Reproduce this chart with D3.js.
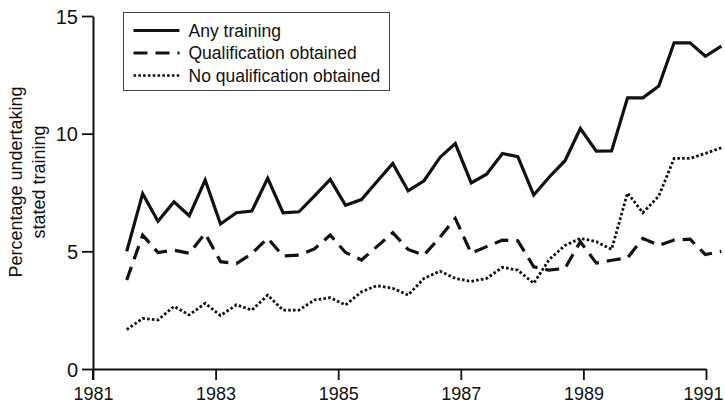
<!DOCTYPE html>
<html>
<head>
<meta charset="utf-8">
<script src="https://cdn.jsdelivr.net/npm/d3@7"></script>
<style>
  body { margin: 0; background: #fff; }
  svg { display: block; font-family: "Liberation Sans", Arial, Helvetica, sans-serif; }
</style>
</head>
<body>
<div id="chart"></div>
<script>
// quarterly survey points (decimal years)
const years = [
  1981.55, 1981.81, 1982.06, 1982.32, 1982.57, 1982.83, 1983.08, 1983.34, 1983.59, 1983.85,
  1984.10, 1984.36, 1984.61, 1984.87, 1985.12, 1985.38, 1985.63, 1985.89, 1986.14, 1986.40,
  1986.66, 1986.91, 1987.17, 1987.42, 1987.68, 1987.93, 1988.19, 1988.44, 1988.70, 1988.95,
  1989.21, 1989.46, 1989.72, 1989.97, 1990.23, 1990.48, 1990.74, 1990.99, 1991.25
];

const anyTraining = [
  5.0, 7.45, 6.28, 7.1, 6.51, 8.03, 6.16, 6.64, 6.71, 8.1,
  6.64, 6.68, 7.35, 8.06, 6.96, 7.2, 7.96, 8.73, 7.57, 8.0,
  8.99, 9.58, 7.91, 8.28, 9.16, 9.02, 7.39, 8.15, 8.85, 10.22,
  9.26, 9.27, 11.52, 11.52, 12.02, 13.86, 13.86, 13.29, 13.72
];

const qualObtained = [
  3.78, 5.69, 4.95, 5.05, 4.92, 5.76, 4.56, 4.48, 4.9, 5.56,
  4.8, 4.84, 5.1, 5.69, 4.95, 4.63, 5.2, 5.79, 5.08, 4.84,
  5.6, 6.4, 4.92, 5.2, 5.48, 5.45, 4.34, 4.2, 4.28, 5.41,
  4.5, 4.62, 4.72, 5.55, 5.25, 5.48, 5.52, 4.86, 5.0
];

const noQual = [
  1.67, 2.15, 2.08, 2.66, 2.3, 2.79, 2.27, 2.73, 2.5, 3.14,
  2.5, 2.5, 2.93, 3.03, 2.72, 3.28, 3.54, 3.43, 3.14, 3.85,
  4.16, 3.85, 3.72, 3.85, 4.32, 4.2, 3.64, 4.65, 5.25, 5.55,
  5.41, 5.08, 7.48, 6.64, 7.35, 8.95, 8.95, 9.16, 9.4
];

const xTicks = [1981, 1983, 1985, 1987, 1989, 1991];
const yTicks = [0, 5, 10, 15];

const seriesNames = ['Any training', 'Qualification obtained', 'No qualification obtained'];
const seriesValues = [anyTraining, qualObtained, noQual];
const dashes = [null, '14,8', '2.6,2.2'];

const W = 725, H = 406;
const m = { top: 16, right: 19, bottom: 37, left: 93 };
const w = W - m.left - m.right;
const h = H - m.top - m.bottom;

const svg = d3.select('#chart').append('svg').attr('width', W).attr('height', H);
const g = svg.append('g').attr('transform', `translate(${m.left},${m.top})`);

const x = d3.scaleLinear().domain([1981, 1991]).range([0, 613]);
const y = d3.scaleLinear().domain([0, 15]).range([h, 0]);

// Axes
const xAxis = g.append('g').attr('transform', `translate(0,${h})`)
  .call(d3.axisBottom(x).tickValues(xTicks).tickFormat(d3.format('d')).tickSize(11).tickSizeOuter(0));
const yAxis = g.append('g')
  .call(d3.axisLeft(y).tickValues(yTicks).tickSize(11).tickSizeOuter(0));

[xAxis, yAxis].forEach(a => {
  a.select('.domain').attr('stroke', '#111').attr('stroke-width', 2);
  a.selectAll('.tick line').attr('stroke', '#111').attr('stroke-width', 1.8);
  a.selectAll('.tick text').attr('fill', '#111')
    .attr('font-family', '"Liberation Sans", Arial, sans-serif');
});
xAxis.selectAll('.tick text').attr('font-size', 18).attr('y', 14).attr('dy', '0.95em')
  .attr('dx', d => d === 1991 ? -3 : 0);
yAxis.selectAll('.tick text').attr('font-size', 20).attr('x', -15).attr('dy', '0.36em');
// y axis runs down through the x axis to the 1981 tick
g.append('line').attr('x1', 0).attr('x2', 0).attr('y1', h).attr('y2', h + 11)
  .attr('stroke', '#111').attr('stroke-width', 2);

// Axis label
const yl = svg.append('text').attr('text-anchor', 'middle').attr('fill', '#111').attr('font-size', 18)
  .attr('transform', 'translate(0,182) rotate(-90)');
yl.append('tspan').attr('x', 0).attr('y', 22).text('Percentage undertaking');
yl.append('tspan').attr('x', 0).attr('y', 45).text('stated training');

// Lines
const line = d3.line().x((d, i) => x(years[i])).y(d => y(d));
seriesValues.forEach((vals, k) => {
  g.append('path').datum(vals)
    .attr('fill', 'none').attr('stroke', '#111')
    .attr('stroke-width', k === 2 ? 2.8 : 3.2)
    .attr('stroke-linejoin', 'miter')
    .attr('stroke-dasharray', dashes[k])
    .attr('d', line);
});

// Legend
const lg = svg.append('g').attr('transform', 'translate(123.5,12.5)');
lg.append('rect').attr('width', 266).attr('height', 78)
  .attr('fill', '#fff').attr('stroke', '#444').attr('stroke-width', 1);
seriesNames.forEach((name, k) => {
  const ry = 18 + k * 22.5;
  lg.append('line').attr('x1', 10).attr('x2', 56).attr('y1', ry).attr('y2', ry)
    .attr('stroke', '#111').attr('stroke-width', k === 2 ? 2.6 : 3.2)
    .attr('stroke-dasharray', dashes[k]);
  lg.append('text').attr('x', 65).attr('y', ry).attr('dy', '0.35em')
    .attr('font-size', 17.5).attr('fill', '#111').text(name);
});
</script>
</body>
</html>
